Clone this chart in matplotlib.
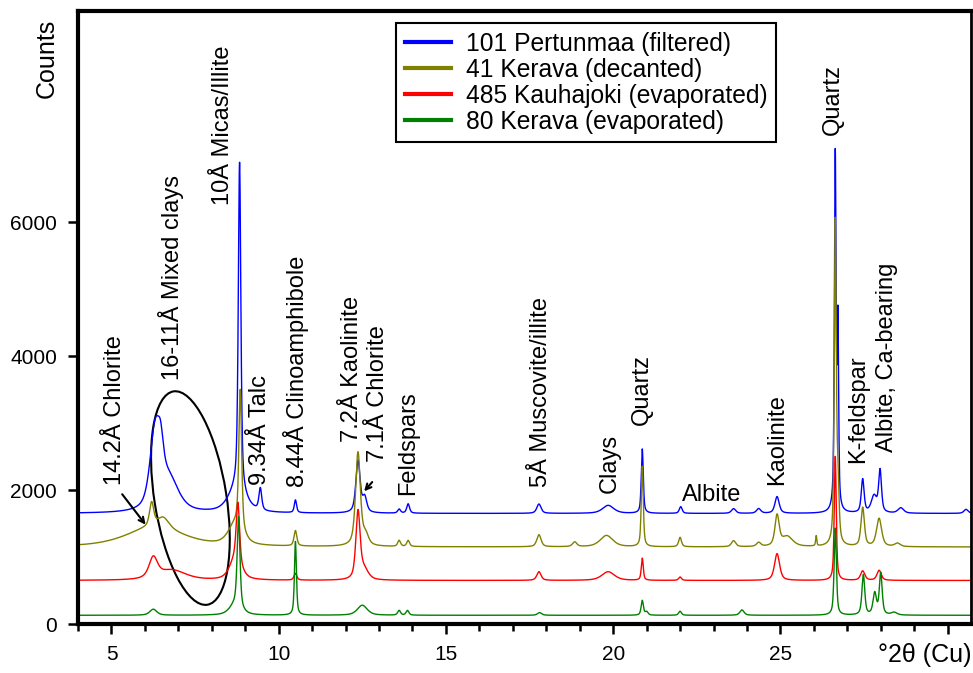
import numpy as np
import matplotlib
matplotlib.use("Agg")
import matplotlib.pyplot as plt
from matplotlib.patches import Ellipse
from matplotlib.transforms import ScaledTranslation

plt.rcParams["font.family"] = ["Liberation Sans", "DejaVu Sans"]

# --- data (peak centre °2θ, height above baseline, FWHM) ---
series_names = [
    "101 Pertunmaa (filtered)",
    "41 Kerava (decanted)",
    "485 Kauhajoki (evaporated)",
    "80 Kerava (evaporated)",
]
series_colors = ["#0000ff", "#808000", "#ff0000", "#008000"]
baselines = [1650, 1150, 650, 130]

blue_centers = [6.3, 6.47, 6.7, 8.75, 8.83, 9.45, 10.5, 12.37, 12.57, 13.6, 13.87,
                17.78, 19.85, 20.87, 22.02, 23.6, 24.35, 24.9, 26.64, 26.72,
                27.46, 27.8, 27.98, 28.6, 30.55]
blue_heights = [1100, 450, 500, 350, 4900, 330, 190, 780, 220, 60, 140,
                140, 120, 960, 100, 70, 70, 250, 5300, 2700,
                500, 250, 620, 80, 60]
blue_widths = [0.35, 0.2, 0.7, 0.6, 0.09, 0.1, 0.08, 0.15, 0.15, 0.1, 0.1,
               0.15, 0.4, 0.07, 0.1, 0.15, 0.15, 0.15, 0.06, 0.05,
               0.1, 0.2, 0.1, 0.2, 0.15]

olive_centers = [6.3, 6.2, 6.55, 8.7, 8.85, 10.5, 12.37, 12.6, 13.6, 13.87,
                 17.78, 18.85, 19.8, 20.87, 22.0, 23.6, 24.35, 24.9, 25.2, 26.07,
                 26.64, 26.72, 27.46, 27.95, 28.5]
olive_heights = [300, 350, 150, 300, 2100, 230, 1400, 150, 90, 90,
                 180, 70, 170, 1200, 140, 90, 60, 450, 150, 150,
                 4800, 800, 580, 420, 50]
olive_widths = [2.0, 0.15, 0.4, 0.5, 0.1, 0.1, 0.17, 0.2, 0.1, 0.1,
                0.15, 0.15, 0.45, 0.07, 0.1, 0.15, 0.15, 0.15, 0.4, 0.04,
                0.07, 0.08, 0.12, 0.18, 0.2]

red_centers = [6.25, 6.8, 8.7, 8.78, 10.5, 12.37, 12.55, 17.78, 19.85, 20.87,
               22.0, 24.9, 26.64, 27.46, 27.95]
red_heights = [300, 150, 300, 900, 100, 1000, 150, 130, 130, 330,
               50, 400, 1850, 140, 150]
red_widths = [0.3, 1.0, 0.4, 0.12, 0.1, 0.15, 0.3, 0.15, 0.45, 0.07,
              0.1, 0.18, 0.07, 0.15, 0.15]

green_centers = [6.25, 8.7, 8.8, 10.5, 12.5, 13.6, 13.85, 17.8, 20.87, 21.0,
                 22.0, 23.85, 26.64, 27.48, 27.82, 28.0, 28.4]
green_heights = [90, 150, 1350, 1100, 150, 70, 70, 40, 220, 50,
                 60, 80, 1300, 600, 320, 620, 40]
green_widths = [0.25, 0.4, 0.1, 0.07, 0.35, 0.1, 0.1, 0.15, 0.08, 0.1,
                0.1, 0.15, 0.08, 0.1, 0.12, 0.1, 0.2]

peak_tables = [
    (blue_centers, blue_heights, blue_widths),
    (olive_centers, olive_heights, olive_widths),
    (red_centers, red_heights, red_widths),
    (green_centers, green_heights, green_widths),
]

# mineral labels: text, x, y (bottom of rotated text)
label_texts = ["14.2Å Chlorite", "16-11Å Mixed clays", "10Å Micas/Illite", "9.34Å Talc",
               "8.44Å Clinoamphibole", "7.2Å Kaolinite", "7.1Å Chlorite", "Feldspars",
               "5Å Muscovite/illite", "Clays", "Quartz", "Kaolinite", "Quartz",
               "K-feldspar", "Albite, Ca-bearing"]
label_x = [5.12, 6.79, 8.34, 9.45, 10.52, 12.19, 12.97, 13.87,
           17.84, 19.90, 20.85, 24.91, 26.58, 27.33, 28.19]
label_y = [2075, 3640, 6250, 2075, 2045, 2716, 2418, 1925,
           2045, 1955, 2970, 2075, 7300, 2403, 2567]


def profile(x, centers, heights, widths, eta=0.6):
    y = np.zeros_like(x)
    for c, h, w in zip(centers, heights, widths):
        hw = w / 2.0
        lor = 1.0 / (1.0 + ((x - c) / hw) ** 2)
        gau = np.exp(-np.log(2) * ((x - c) / hw) ** 2)
        y += h * (eta * lor + (1 - eta) * gau)
    return y


two_theta = np.arange(4.0, 30.7, 0.005)

fig = plt.figure(figsize=(9.73, 6.73), dpi=100)
ax = fig.add_axes([0.0802, 0.0728, 0.9178, 0.9108])

for name, color, base, (c, h, w) in zip(series_names, series_colors, baselines, peak_tables):
    ax.plot(two_theta, base + profile(two_theta, c, h, w), color=color, lw=1.0, label=name)

ax.set_xlim(4, 30.7)
ax.set_ylim(0, 9150)
ax.set_xticks([5, 10, 15, 20, 25, 30])
ax.set_xticklabels(["5", "10", "15", "20", "25", ""])
ax.set_xticks(np.arange(4, 31, 1), minor=True)
ax.set_yticks([0, 2000, 4000, 6000])
ax.tick_params(axis="both", which="major", direction="out", length=7, width=1.8,
               labelsize=15, pad=8)
ax.tick_params(axis="x", which="minor", direction="out", length=5, width=1.8)
for side in ["left", "bottom", "top"]:
    ax.spines[side].set_linewidth(3)
ax.spines["right"].set_linewidth(2)

for t, x, y in zip(label_texts, label_x, label_y):
    ax.text(x, y, t, rotation=90, ha="center", va="bottom", fontsize=17)
ax.text(22.94, 1830, "Albite", ha="center", va="baseline", fontsize=17)

arrow = dict(arrowstyle="->", color="black", lw=1.5)
ax.annotate("", xy=(6.07, 1450), xytext=(5.27, 1970), arrowprops=arrow)
ax.annotate("", xy=(12.5, 1950), xytext=(12.85, 2150), arrowprops=arrow)

ell = Ellipse((0, 0), 0.72, 2.16, angle=9, fill=False, edgecolor="black", lw=1.5,
              transform=fig.dpi_scale_trans + ScaledTranslation(7.36, 1880, ax.transData))
ax.add_patch(ell)

leg = ax.legend(loc="upper left", bbox_to_anchor=(0.356, 0.98), borderaxespad=0,
                fontsize=17.7, handlelength=1.9, handletextpad=0.6, labelspacing=0.08,
                borderpad=0.35, fancybox=False, framealpha=1, edgecolor="black")
leg.get_frame().set_linewidth(1.5)
for line in leg.get_lines():
    line.set_linewidth(3)

fig.text(47 / 973, 1 - 58 / 673, "Counts", rotation=90, ha="center", va="center", fontsize=18)
fig.text(972 / 973, 1 - 655 / 673, "°2θ (Cu)", ha="right", va="center", fontsize=18)

fig.savefig("out.png", dpi=100)
